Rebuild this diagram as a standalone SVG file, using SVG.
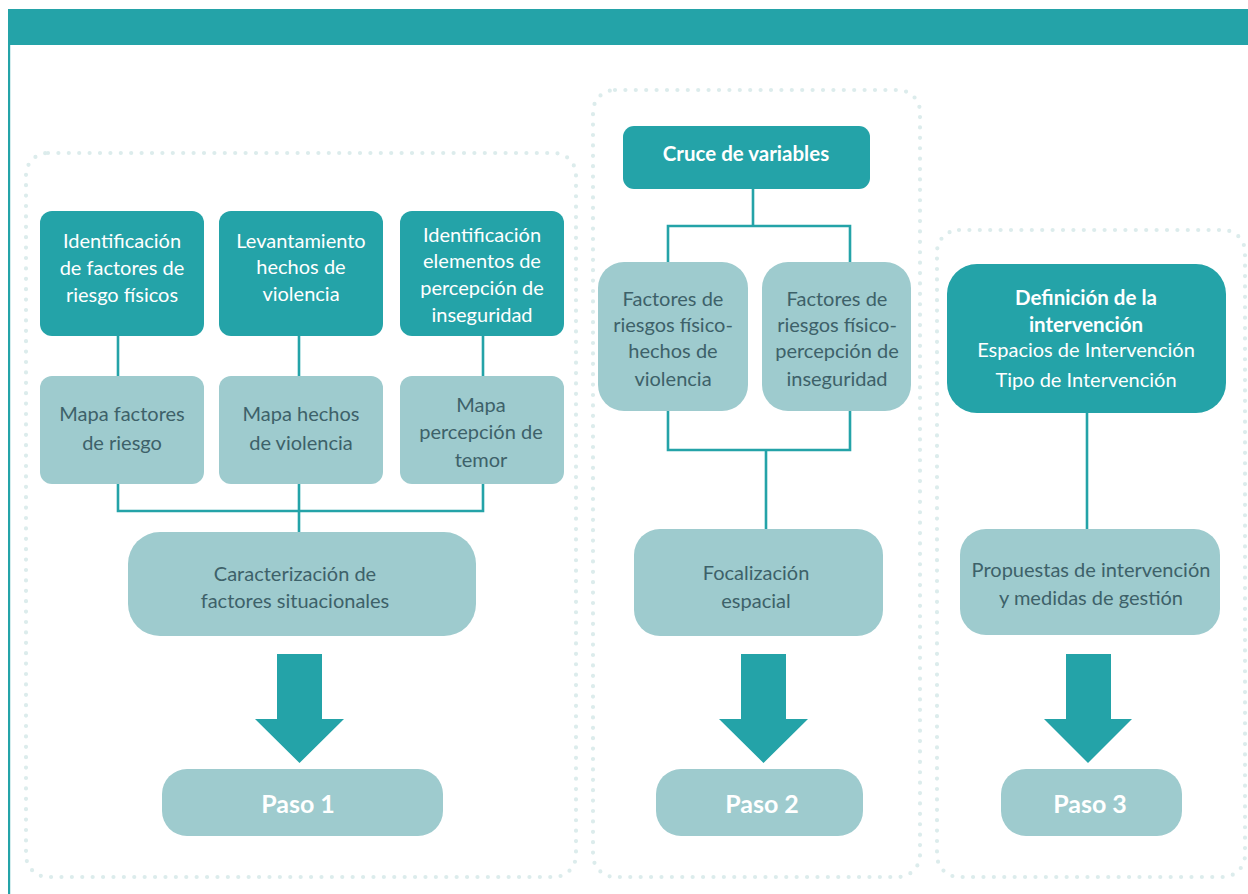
<svg xmlns="http://www.w3.org/2000/svg" width="1248" height="894" viewBox="0 0 1248 894">
<defs>
<style>
.dot{fill:none;stroke:#dcecec;stroke-width:4.2;stroke-linecap:round;stroke-dasharray:0 10.4}
.dk{fill:#24a3a8}
.lt{fill:#9ecbce}
.conn{fill:none;stroke:#24a3a8;stroke-width:2.6}
.tw{font-family:Lato,"Noto Sans",sans-serif;font-size:20px;fill:#ffffff;text-anchor:middle}
.td{font-family:Lato,"Noto Sans",sans-serif;font-size:20px;fill:#3d6169;text-anchor:middle}
.tb{font-family:Lato,"Noto Sans",sans-serif;font-weight:bold;fill:#ffffff;text-anchor:middle}
</style>
</defs>
<rect width="1248" height="894" fill="#ffffff"/>
<rect x="8" y="9" width="1240" height="36" fill="#24a3a8"/>
<rect x="8" y="45" width="2.2" height="849" fill="#24a3a8"/>

<g id="containers">
<rect class="dot" x="26" y="153" width="550" height="724" rx="22"/>
<rect class="dot" x="593" y="90" width="327" height="787" rx="22"/>
<rect class="dot" x="937" y="230" width="308" height="647" rx="22"/>
</g>

<g id="connectors">
<path class="conn" d="M118 336V376M299 336V376M483 336V376"/>
<path class="conn" d="M118 484V511H483V484M299 484V533"/>
<path class="conn" d="M753 189V226M668 262V226H850V262"/>
<path class="conn" d="M668 411V450H850V411M766 450V529"/>
<path class="conn" d="M1087 412V529"/>
<path class="dk" d="M277 654H322V719H344L299.5 763L255 719H277Z"/>
<path class="dk" d="M741 654H786V719H808L763.5 763L719 719H741Z"/>
<path class="dk" d="M1066 654H1111V719H1132L1088 763L1044 719H1066Z"/>
</g>

<g id="n1"><rect class="dk" x="40" y="211" width="164" height="125" rx="12"/>
<text class="tw"><tspan x="122" y="248">Identificación</tspan><tspan x="122" y="275">de factores de</tspan><tspan x="122" y="302">riesgo físicos</tspan></text></g>
<g id="n2"><rect class="dk" x="219" y="211" width="164" height="125" rx="12"/>
<text class="tw"><tspan x="301" y="248">Levantamiento</tspan><tspan x="301" y="274">hechos de</tspan><tspan x="301" y="301">violencia</tspan></text></g>
<g id="n3"><rect class="dk" x="400" y="211" width="164" height="125" rx="12"/>
<text class="tw"><tspan x="482" y="242">Identificación</tspan><tspan x="482" y="268">elementos de</tspan><tspan x="482" y="295">percepción de</tspan><tspan x="482" y="322">inseguridad</tspan></text></g>

<g id="m1"><rect class="lt" x="40" y="376" width="164" height="108" rx="12"/>
<text class="td"><tspan x="122" y="421">Mapa factores</tspan><tspan x="122" y="450">de riesgo</tspan></text></g>
<g id="m2"><rect class="lt" x="219" y="376" width="164" height="108" rx="12"/>
<text class="td"><tspan x="301" y="421">Mapa hechos</tspan><tspan x="301" y="450">de violencia</tspan></text></g>
<g id="m3"><rect class="lt" x="400" y="376" width="164" height="108" rx="12"/>
<text class="td"><tspan x="481" y="412">Mapa</tspan><tspan x="481" y="439">percepción de</tspan><tspan x="481" y="467">temor</tspan></text></g>

<g id="car"><rect class="lt" x="128" y="532" width="348" height="104" rx="32"/>
<text class="td"><tspan x="295" y="581">Caracterización de</tspan><tspan x="295" y="608">factores situacionales</tspan></text></g>
<g id="paso1"><rect class="lt" x="162" y="769" width="281" height="67" rx="25"/>
<text class="tb" font-size="25" x="298" y="813">Paso 1</text></g>

<g id="cruce"><rect class="dk" x="623" y="126" width="247" height="63" rx="11"/>
<text class="tb" font-size="20.5" x="746" y="161">Cruce de variables</text></g>
<g id="f1"><rect class="lt" x="598" y="262" width="150" height="149" rx="26"/>
<text class="td"><tspan x="673" y="306">Factores de</tspan><tspan x="673" y="332">riesgos físico-</tspan><tspan x="673" y="358">hechos de</tspan><tspan x="673" y="386">violencia</tspan></text></g>
<g id="f2"><rect class="lt" x="762" y="262" width="149" height="149" rx="26"/>
<text class="td"><tspan x="837" y="306">Factores de</tspan><tspan x="837" y="332">riesgos físico-</tspan><tspan x="837" y="358">percepción de</tspan><tspan x="837" y="386">inseguridad</tspan></text></g>
<g id="foc"><rect class="lt" x="634" y="529" width="249" height="107" rx="26"/>
<text class="td"><tspan x="756" y="580">Focalización</tspan><tspan x="756" y="608">espacial</tspan></text></g>
<g id="paso2"><rect class="lt" x="656" y="769" width="207" height="67" rx="25"/>
<text class="tb" font-size="25" x="762" y="813">Paso 2</text></g>

<g id="def"><rect class="dk" x="947" y="264" width="279" height="149" rx="30"/>
<text class="tb" font-size="20.5"><tspan x="1086" y="305">Definición de la</tspan><tspan x="1086" y="332">intervención</tspan></text>
<text class="tw"><tspan x="1086" y="357">Espacios de Intervención</tspan><tspan x="1086" y="387">Tipo de Intervención</tspan></text></g>
<g id="prop"><rect class="lt" x="960" y="529" width="260" height="106" rx="26"/>
<text class="td"><tspan x="1091" y="577">Propuestas de intervención</tspan><tspan x="1091" y="605">y medidas de gestión</tspan></text></g>
<g id="paso3"><rect class="lt" x="1001" y="769" width="181" height="67" rx="25"/>
<text class="tb" font-size="25" x="1090" y="813">Paso 3</text></g>
</svg>
